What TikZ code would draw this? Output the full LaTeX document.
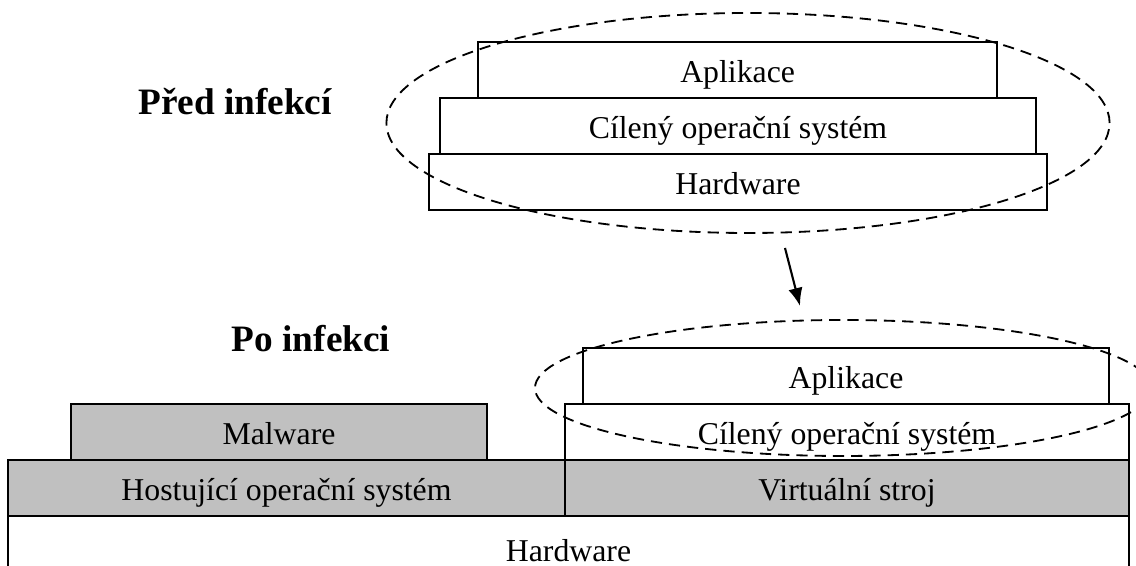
\documentclass[tikz,border=0pt]{standalone}
\usepackage{fontspec}
\setmainfont{Liberation Serif}
\usetikzlibrary{arrows.meta}
\definecolor{layergray}{RGB}{192,192,192}
\tikzset{
  layer/.style={draw, line width=1.2pt, fill=white, minimum height=1.4cm, inner sep=0pt,
    text height=18.5pt, text depth=0pt, font=\fontsize{22.6}{26}\selectfont},
  hostlayer/.style={layer, fill=layergray},
  title/.style={anchor=base, font=\fontsize{26.5}{30}\selectfont\bfseries},
  guest/.style={dash pattern=on 8pt off 5pt, line width=1.3pt},
}
\begin{document}
\begin{tikzpicture}
  \useasboundingbox (0,0) rectangle (28.4,14.15);
  % before infection
  \node[title] (before) at (5.875,11.275) {Před infekcí};
  \foreach \nm/\x/\y/\w/\txt in {appTop/18.44/12.4/12.975/Aplikace,
    osTop/18.45/11.0/14.9/Cílený operační systém, hwTop/18.45/9.6/15.45/Hardware}
  {
    \node[layer, minimum width=\w cm] (\nm) at (\x,\y) {\txt};
  }
  \draw[guest] (18.7,11.075) ellipse (9.04 and 2.75);
  % infection
  \coordinate (from) at (19.625,7.95);
  \coordinate (to) at (20.0,6.5);
  \draw[line width=1.5pt,-{Latex[length=4.5mm,width=3.6mm]}] (from) -- (to);
  % after infection
  \node[title] (after) at (7.775,5.35) {Po infekci};
  \node[layer, minimum width=28.025cm, minimum height=1.6cm] (hw) at (14.2125,0.45) {Hardware};
  \node[hostlayer, minimum width=13.925cm] (hostOs) at (7.1625,1.95) {Hostující operační systém};
  \node[hostlayer, minimum width=14.1cm] (vm) at (21.175,1.95) {Virtuální stroj};
  \node[hostlayer, minimum width=10.4cm] (malware) at (6.975,3.35) {Malware};
  \node[layer, minimum width=14.1cm] (osVm) at (21.175,3.35) {Cílený operační systém};
  \node[layer, minimum width=13.15cm] (appVm) at (21.15,4.75) {Aplikace};
  \draw[guest] (21.075,4.45) ellipse (7.7 and 1.7);
\end{tikzpicture}
\end{document}
